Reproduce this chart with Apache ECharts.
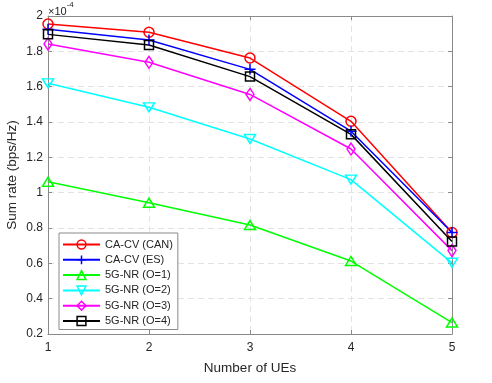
<!DOCTYPE html>
<html><head><meta charset="utf-8">
<script src="https://cdn.jsdelivr.net/npm/echarts@6/dist/echarts.min.js"></script>
<style>html,body{margin:0;padding:0;background:#fff}#c{width:492px;height:383px}</style>
</head><body><div id="c"></div>
<script>
const ues = [1, 2, 3, 4, 5];
const caCan = [1.955, 1.908, 1.762, 1.404, 0.774];
const caEs = [1.925, 1.864, 1.698, 1.348, 0.775];
const nr1 = [1.062, 0.943, 0.817, 0.613, 0.265];
const nr2 = [1.619, 1.483, 1.304, 1.074, 0.603];
const nr3 = [1.842, 1.738, 1.556, 1.247, 0.672];
const nr4 = [1.896, 1.836, 1.657, 1.330, 0.724];
const yTicks = [0.2, 0.4, 0.6, 0.8, 1, 1.2, 1.4, 1.6, 1.8, 2];
const names = ['CA-CV (CAN)', 'CA-CV (ES)', '5G-NR (O=1)', '5G-NR (O=2)', '5G-NR (O=3)', '5G-NR (O=4)'];
const colors = ['#ff0000', '#0000ff', '#00ff00', '#00ffff', '#ff00ff', '#000000'];

const FONT = 'Liberation Sans, Arial, sans-serif';
const chart = echarts.init(document.getElementById('c'));
function mk(name, vals, color, symbol, size, rotate) {
  return {
    name: name, type: 'line', data: ues.map((u, i) => [u, vals[i]]),
    symbol: symbol, symbolSize: size, symbolRotate: rotate || 0,
    showAllSymbol: true,
    lineStyle: { color: color, width: 1.5 },
    itemStyle: { color: 'rgba(255,255,255,0)', borderColor: color, borderWidth: 1.5 },
    emphasis: { disabled: true }, animation: false
  };
}
const axisLine = { show: true, lineStyle: { color: '#8a8a8a', width: 1 } };
const tick = { show: true, inside: true, length: 4, lineStyle: { color: '#8a8a8a' } };
chart.setOption({
  backgroundColor: '#fff',
  textStyle: { fontFamily: FONT },
  grid: { left: 48, right: 40, top: 16, bottom: 49, containLabel: false, outerBoundsMode: 'none' },
  xAxis: [{
    type: 'value', min: 1, max: 5, interval: 1,
    name: 'Number of UEs', nameLocation: 'middle', nameGap: 27, nameMoveOverlap: false,
    nameTextStyle: { fontSize: 13.5, color: '#262626', fontFamily: FONT },
    axisLine: axisLine, axisTick: tick,
    axisLabel: { fontSize: 12, color: '#262626', margin: 8, fontFamily: FONT },
    splitLine: { show: true, lineStyle: { color: '#e3e3e3', type: [6, 4], width: 1 } }
  }, {
    type: 'value', min: 1, max: 5, interval: 1, position: 'top',
    axisLine: axisLine, axisTick: tick,
    axisLabel: { show: false }, splitLine: { show: false }
  }],
  yAxis: [{
    type: 'value', min: 0.2, max: 2, interval: 0.2,
    name: 'Sum rate (bps/Hz)', nameLocation: 'middle', nameGap: 29, nameMoveOverlap: false,
    nameTextStyle: { fontSize: 13.5, color: '#262626', fontFamily: FONT },
    axisLine: axisLine, axisTick: tick,
    axisLabel: { fontSize: 12, color: '#262626', margin: 5, fontFamily: FONT,
      formatter: v => String(parseFloat(v.toFixed(1))) },
    splitLine: { show: true, lineStyle: { color: '#e3e3e3', type: [6, 4], width: 1 } }
  }, {
    type: 'value', min: 0.2, max: 2, interval: 0.2, position: 'right',
    axisLine: axisLine, axisTick: tick,
    axisLabel: { show: false }, splitLine: { show: false }
  }],
  legend: {
    orient: 'vertical', left: 59, top: 233,
    data: names.map((n, i) => ({ name: n, itemStyle: { color: 'rgba(255,255,255,0)', borderColor: colors[i], borderWidth: 1.5 } })),
    itemWidth: 37, itemHeight: 11, itemGap: 4.3,
    padding: [6, 5, 3, 3],
    backgroundColor: '#fff', borderColor: '#8a8a8a', borderWidth: 1,
    textStyle: { fontSize: 11, color: '#262626', fontFamily: FONT },
    selectedMode: false
  },
  graphic: [{
    type: 'text', left: 48, top: 1,
    style: { text: '{a|×10}{b|-4}', rich: {
      a: { fontSize: 11, fill: '#262626', fontFamily: FONT, padding: [5, 0, 0, 0] },
      b: { fontSize: 8, fill: '#262626', fontFamily: FONT, verticalAlign: 'top' } } }
  }],
  series: [
    mk(names[0], caCan, colors[0], 'circle', 10),
    mk(names[1], caEs, colors[1], 'path://M0,-1L0,1M-1,0L1,0', 11),
    mk(names[2], nr1, colors[2], 'triangle', [11, 9]),
    mk(names[3], nr2, colors[3], 'triangle', [11, 9], 180),
    mk(names[4], nr3, colors[4], 'diamond', [8, 12]),
    mk(names[5], nr4, colors[5], 'rect', 9)
  ]
});
</script></body></html>
